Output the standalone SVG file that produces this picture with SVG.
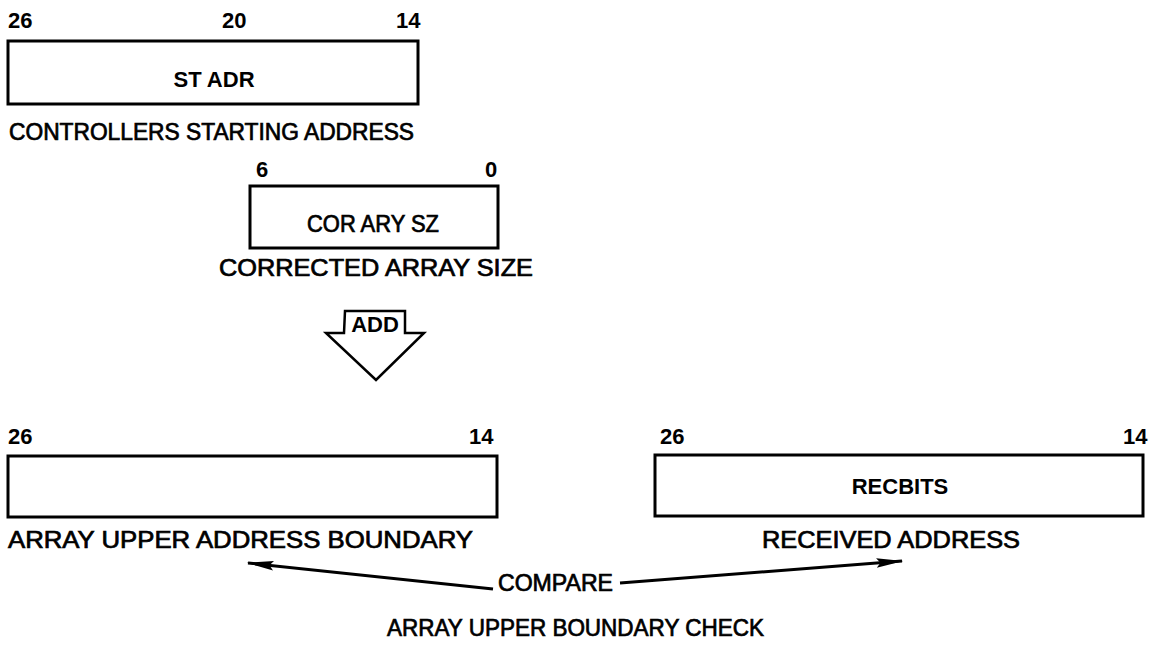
<svg xmlns="http://www.w3.org/2000/svg" width="1153" height="662" viewBox="0 0 1153 662">
<defs>
<style>
.box{fill:#fff;stroke:#000;stroke-width:3}
.num{font-family:"Liberation Sans",Arial,sans-serif;font-weight:bold;font-size:22px;fill:#000}
.in{font-family:"Liberation Sans",Arial,sans-serif;font-weight:bold;font-size:22px;fill:#000;text-anchor:middle}
.lbl{font-family:"Liberation Sans",Arial,sans-serif;font-size:23px;fill:#000;stroke:#000;stroke-width:0.7}
.conn{fill:none;stroke:#000;stroke-width:3}
</style>
<marker id="ah" viewBox="0 0 20 10" refX="19" refY="5" markerWidth="9" markerHeight="4.5" orient="auto" markerUnits="strokeWidth">
<path d="M0,1.5 L20,5 L0,8.5 L3,5 Z" fill="#000"/>
</marker>
</defs>
<rect width="1153" height="662" fill="#fff"/>
<g id="stadr">
<text class="num" x="8" y="28">26</text>
<text class="num" x="222" y="28">20</text>
<text class="num" x="396" y="28">14</text>
<rect class="box" x="8" y="41" width="410" height="63"/>
<text class="in" x="214" y="87">ST ADR</text>
<text class="lbl" x="9" y="140" textLength="405" lengthAdjust="spacingAndGlyphs">CONTROLLERS STARTING ADDRESS</text>
</g>
<g id="corarysz">
<text class="num" x="256" y="177">6</text>
<text class="num" x="485" y="177">0</text>
<rect class="box" x="250" y="186" width="248" height="62"/>
<text class="lbl" x="307" y="232" textLength="132" lengthAdjust="spacingAndGlyphs">COR ARY SZ</text>
<text class="lbl" x="219" y="276" textLength="314" lengthAdjust="spacingAndGlyphs">CORRECTED ARRAY SIZE</text>
</g>
<g id="add">
<path d="M345,311 L405,311 L405,333 L424,333 L376,380 L326,333 L344,333 Z" fill="#fff" stroke="#000" stroke-width="2.5" stroke-linejoin="miter"/>
<text class="in" x="375" y="332">ADD</text>
</g>
<g id="upper">
<text class="num" x="8" y="444">26</text>
<text class="num" x="469" y="444">14</text>
<rect class="box" x="8" y="456" width="489" height="61"/>
<text class="lbl" x="8" y="548" textLength="465" lengthAdjust="spacingAndGlyphs">ARRAY UPPER ADDRESS BOUNDARY</text>
</g>
<g id="recbits">
<text class="num" x="660" y="444">26</text>
<text class="num" x="1123" y="444">14</text>
<rect class="box" x="655" y="455" width="488" height="61"/>
<text class="in" x="900" y="494">RECBITS</text>
<text class="lbl" x="762" y="548" textLength="258" lengthAdjust="spacingAndGlyphs">RECEIVED ADDRESS</text>
</g>
<g id="compare">
<text class="lbl" x="498" y="591" textLength="115" lengthAdjust="spacingAndGlyphs">COMPARE</text>
</g>
<g id="connectors">
<line class="conn" x1="493" y1="589" x2="248" y2="563" marker-end="url(#ah)"/>
<line class="conn" x1="620" y1="583" x2="902" y2="561" marker-end="url(#ah)"/>
</g>
<text class="lbl" x="387" y="636" textLength="377" lengthAdjust="spacingAndGlyphs">ARRAY UPPER BOUNDARY CHECK</text>
</svg>
